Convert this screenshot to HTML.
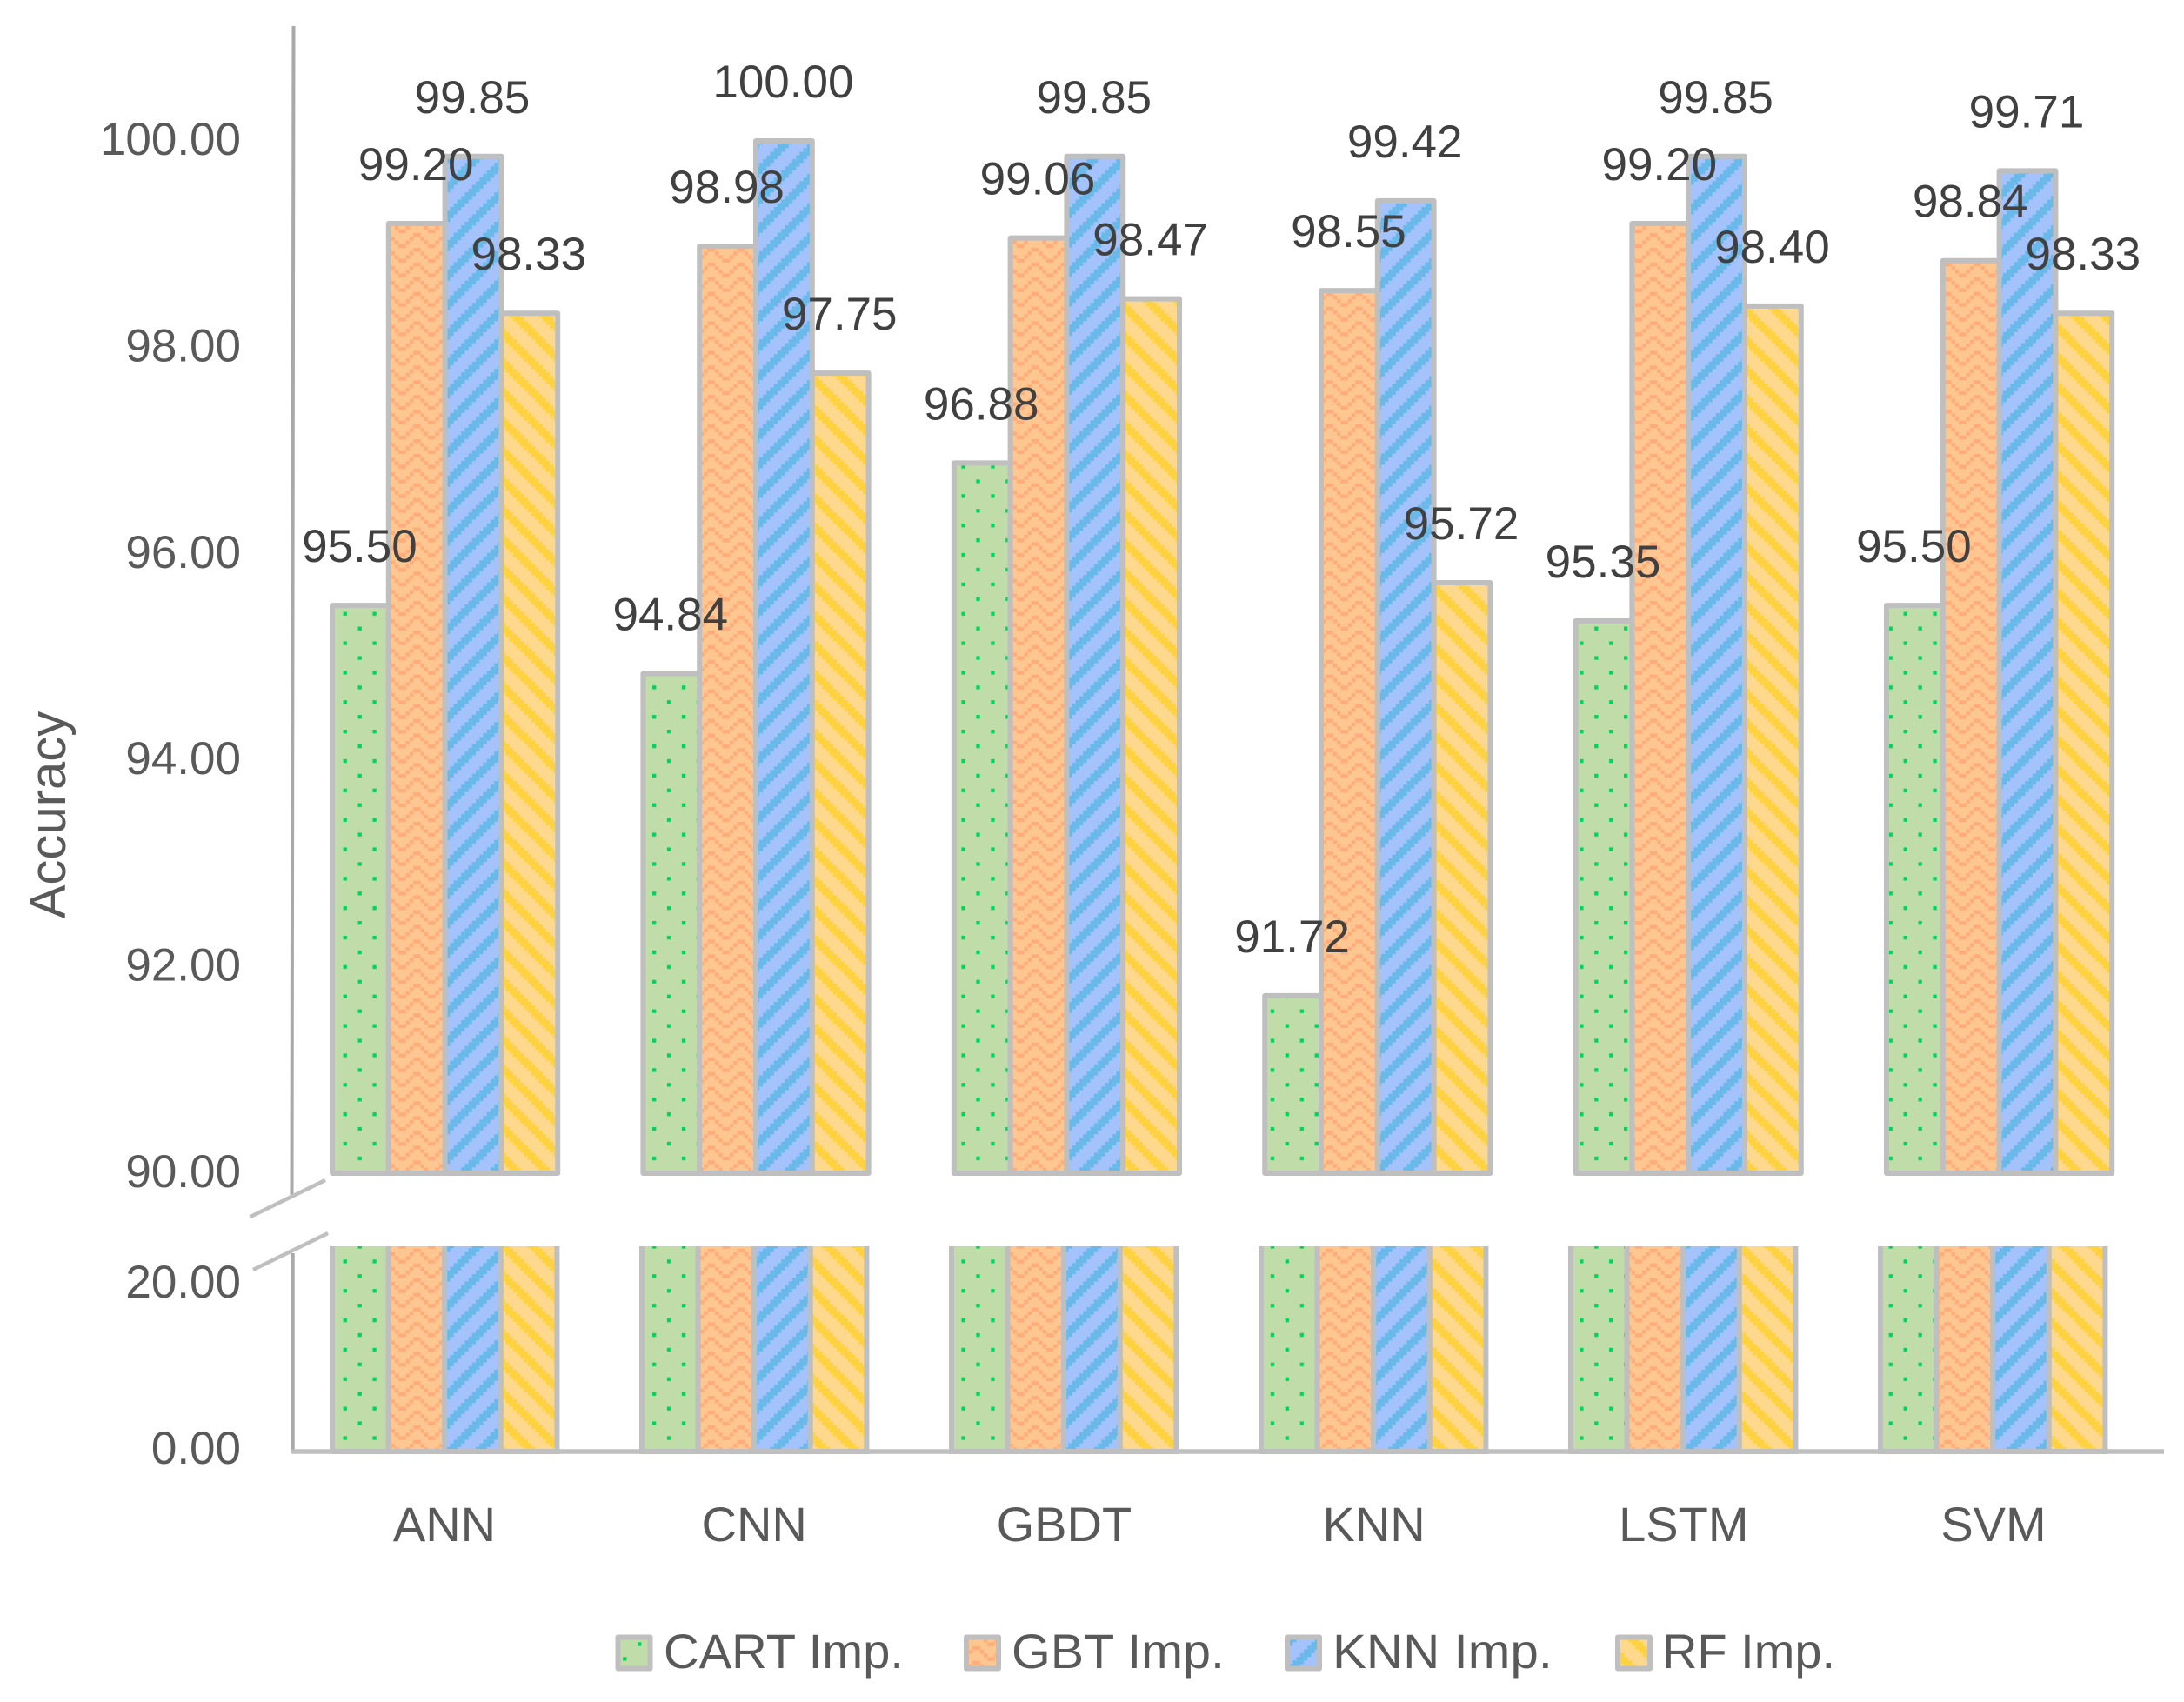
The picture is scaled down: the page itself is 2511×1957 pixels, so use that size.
<!DOCTYPE html>
<html lang="en">
<head>
<meta charset="utf-8">
<title>Accuracy by model and imputation method</title>
<style>
html,body{margin:0;padding:0;background:#fff;}
svg{display:block;}
text{font-family:"Liberation Sans",sans-serif;}
</style>
</head>
<body>
<svg id="chart" xmlns="http://www.w3.org/2000/svg" width="2511" height="1957" viewBox="0 0 2511 1957">
<rect width="2511" height="1957" fill="#ffffff"/>
<defs id="defs">
<clipPath id="lower-clip"><rect x="300" y="1433" width="2211" height="250"/></clipPath>
</defs>
<line x1="337.5" y1="30" x2="335.5" y2="1377" stroke="#a9a9a9" stroke-width="4"/>
<line x1="336.7" y1="1441" x2="336.7" y2="1669" stroke="#a9a9a9" stroke-width="4"/>
<line x1="288" y1="1399" x2="374" y2="1357" stroke="#bfbfbf" stroke-width="4.5"/>
<line x1="291" y1="1460" x2="377" y2="1418" stroke="#bfbfbf" stroke-width="4.5"/>
<g id="lower-bars" clip-path="url(#lower-clip)"></g>
<g id="upper-bars"></g>
<line x1="335" y1="1669" x2="2488" y2="1669" stroke="#bfbfbf" stroke-width="5.5"/>
<g id="ticks"></g>
<g id="cats"></g>
<g id="values"></g>
<text transform="translate(75,937) rotate(-90)" text-anchor="middle" font-size="58" fill="#595959">Accuracy</text>
<g id="legend"></g>
</svg>
<script>
const categories = ["ANN", "CNN", "GBDT", "KNN", "LSTM", "SVM"];
const seriesNames = ["CART Imp.", "GBT Imp.", "KNN Imp.", "RF Imp."];
const cartValues = [95.50, 94.84, 96.88, 91.72, 95.35, 95.50];
const gbtValues = [99.20, 98.98, 99.06, 98.55, 99.20, 98.84];
const knnValues = [99.85, 100.00, 99.85, 99.42, 99.85, 99.71];
const rfValues = [98.33, 97.75, 98.47, 95.72, 98.40, 98.33];
const upperTicks = [100, 98, 96, 94, 92, 90];
const lowerTicks = [20, 0];

const allSeries = [cartValues, gbtValues, knnValues, rfValues];
const seriesKeys = ["cart", "gbt", "knn", "rf"];
const NS = "http://www.w3.org/2000/svg";
const BAR_W_UP = 64.8, BAR_W_LOW = 64.6;

function yUpper(v) { return 1349 - (v - 90) * 118.7; }
function yLower(v) { return 1669 - v * 9.55; }
function xUpper(g, s) { return 382 + 357.4 * g + BAR_W_UP * s; }
function xLower(g, s) { return 382 + 356 * g + BAR_W_LOW * s; }
function xCategory(g) { return 511 + 356.2 * g; }

function make(tag, attrs, parent) {
  const el = document.createElementNS(NS, tag);
  for (const k in attrs) el.setAttribute(k, attrs[k]);
  parent.appendChild(el);
  return el;
}

// Hatch patterns: 8-cell tiles, one cell = 4.231 px, anchored to the page.
const CELL = 4.231;
const defs = document.getElementById("defs");
function tile(id, w, h, ox, oy, bg, fg, cells) {
  const p = make("pattern", {
    id: id, patternUnits: "userSpaceOnUse", width: w, height: h,
    patternTransform: "translate(" + ox + " " + oy + ") scale(" + CELL + ")"
  }, defs);
  make("rect", { x: 0, y: 0, width: w, height: h, fill: bg }, p);
  cells.forEach(function (c) {
    make("rect", { x: c[0], y: c[1], width: 1.02, height: 1.02, fill: fg }, p);
  });
}
tile("fill-cart", 8, 8, 394.6, 703.6, "#c0dca9", "#00d45c", [[0, 0], [4, 4]]);
tile("fill-gbt", 8, 4, 462.4, 809.6, "#fec690", "#ffab7a",
  [[3, 0], [4, 0], [2, 1], [5, 1], [1, 2], [6, 2], [0, 3], [7, 3]]);
const knnCells = [], rfCells = [];
for (let c = 0; c < 8; c++) {
  for (let d = -1; d <= 1; d++) {
    knnCells.push([c, (8 + d - c + 8) % 8]);
    rfCells.push([c, (c + d + 8) % 8]);
  }
}
tile("fill-knn", 8, 8, 513.2, 821.9, "#a4c2fb", "#68b9ea", knnCells);
tile("fill-rf", 8, 8, 577.2, 821.9, "#fed88d", "#fed23f", rfCells);

const upperBars = document.getElementById("upper-bars");
const lowerBars = document.getElementById("lower-bars");
const valuesLayer = document.getElementById("values");

allSeries.forEach(function (vals, s) {
  vals.forEach(function (v, g) {
    const lowY = yLower(v);
    const low = make("rect", {
      x: xLower(g, s), y: lowY, width: BAR_W_LOW, height: yLower(0) - lowY,
      fill: "url(#fill-" + seriesKeys[s] + ")", stroke: "#bfbfbf", "stroke-width": 6
    }, lowerBars);
    
    

    const upY = yUpper(v);
    const up = make("rect", {
      x: xUpper(g, s), y: upY, width: BAR_W_UP, height: yUpper(90) - upY,
      fill: "url(#fill-" + seriesKeys[s] + ")", stroke: "#bfbfbf", "stroke-width": 6,
      "stroke-linejoin": "round"
    }, upperBars);
    
    
  });
});

allSeries.forEach(function (vals, s) {
  vals.forEach(function (v, g) {
    const t = make("text", {
      x: xUpper(g, s) + BAR_W_UP / 2 - 1, y: yUpper(v) - 50,
      "text-anchor": "middle", "font-size": 53, fill: "#404040"
    }, valuesLayer);
    t.textContent = v.toFixed(2);
    
    
  });
});

const ticksLayer = document.getElementById("ticks");
upperTicks.forEach(function (v) {
  const t = make("text", { x: 277, y: yUpper(v) + 16, "text-anchor": "end", "font-size": 53, fill: "#595959" }, ticksLayer);
  t.textContent = v.toFixed(2);
  
  
});
lowerTicks.forEach(function (v) {
  const t = make("text", { x: 277, y: yLower(v) + 14, "text-anchor": "end", "font-size": 53, fill: "#595959" }, ticksLayer);
  t.textContent = v.toFixed(2);
  
  
});

const catsLayer = document.getElementById("cats");
categories.forEach(function (c, g) {
  const t = make("text", { x: xCategory(g), y: 1772, "text-anchor": "middle", "font-size": 56, fill: "#595959" }, catsLayer);
  t.textContent = c;
  
  
});

const legendLayer = document.getElementById("legend");
const legendSwatchX = [710.5, 1111, 1480, 1860];
const legendTextX = [763, 1163, 1532, 1911];
const legendTextW = [276, 245, 253, 199];
seriesNames.forEach(function (name, s) {
  const r = make("rect", {
    x: legendSwatchX[s], y: 1882.5, width: 37, height: 36,
    fill: "url(#fill-" + seriesKeys[s] + ")", stroke: "#bfbfbf", "stroke-width": 6, "stroke-linejoin": "round"
  }, legendLayer);
  
  
  const t = make("text", { x: legendTextX[s], y: 1918, "font-size": 56, fill: "#595959", textLength: legendTextW[s], lengthAdjust: "spacingAndGlyphs" }, legendLayer);
  t.textContent = name;
  
  
});
</script>
</body>
</html>
